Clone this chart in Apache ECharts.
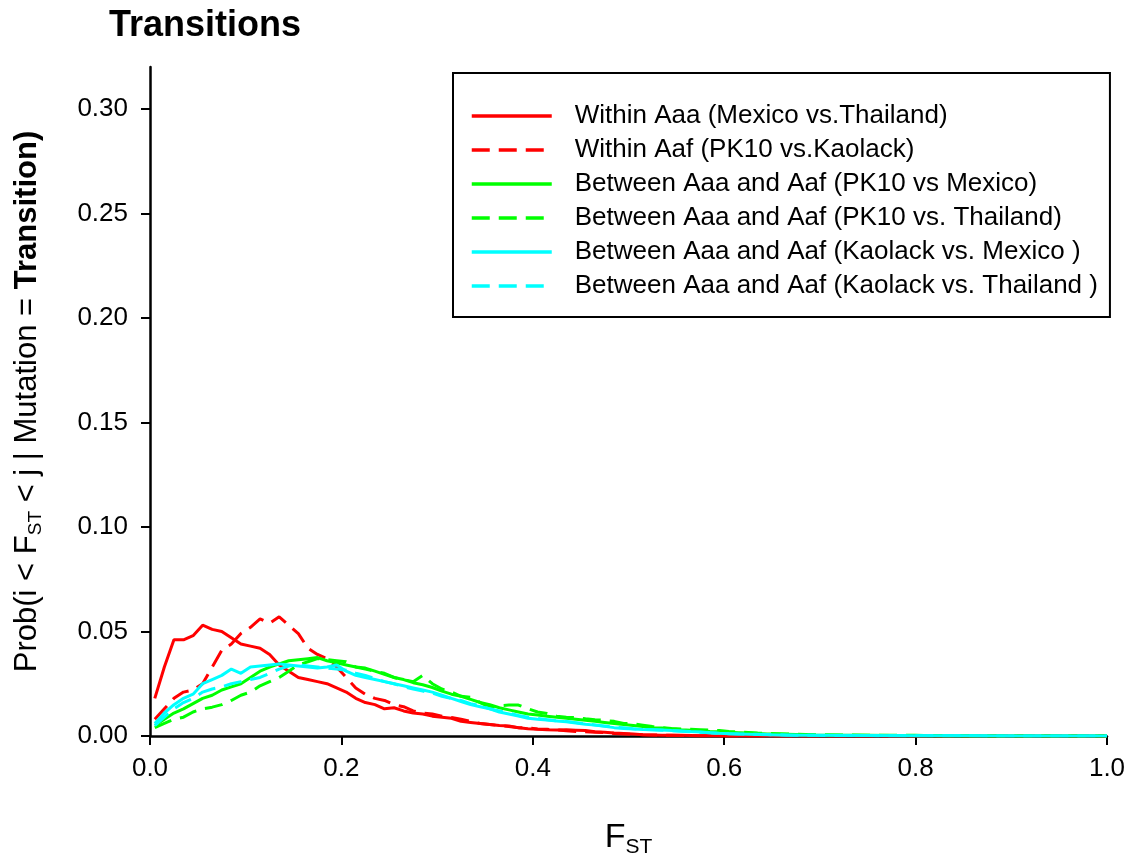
<!DOCTYPE html>
<html>
<head>
<meta charset="utf-8">
<script src="https://cdn.jsdelivr.net/npm/echarts@6/dist/echarts.min.js"></script>
<style>
  html, body { margin: 0; padding: 0; background: #fff; }
  #chart { width: 1132px; height: 863px; }
</style>
</head>
<body>
<div id="chart"></div>
<script>
// FST bin centres shared by every curve
const fst = [
  0.005, 0.015, 0.025, 0.035, 0.045, 0.055, 0.065, 0.075, 0.085, 0.095,
  0.105, 0.115, 0.125, 0.135, 0.145, 0.155, 0.165, 0.175, 0.185, 0.195,
  0.205, 0.215, 0.225, 0.235, 0.245, 0.255, 0.265, 0.275, 0.285, 0.295,
  0.305, 0.315, 0.325, 0.335, 0.345, 0.355, 0.365, 0.375, 0.385, 0.395,
  0.405, 0.415, 0.425, 0.435, 0.445, 0.455, 0.465, 0.475, 0.485, 0.495,
  0.505, 0.515, 0.525, 0.535, 0.545, 0.555, 0.565, 0.575, 0.585, 0.595,
  0.605, 0.615, 0.625, 0.635, 0.645, 0.655, 0.665, 0.675, 0.685, 0.695,
  0.75, 0.80, 0.85, 0.90, 0.95, 1.00
];

// Within Aaa (Mexico vs. Thailand)
const withinAaa = [
  0.018, 0.033, 0.046, 0.046, 0.048, 0.053, 0.051, 0.050, 0.047, 0.044,
  0.043, 0.042, 0.039, 0.034, 0.031, 0.028, 0.027, 0.026, 0.025, 0.023,
  0.021, 0.018, 0.016, 0.015, 0.013, 0.0135, 0.012, 0.011, 0.0105, 0.0095,
  0.009, 0.0085, 0.007, 0.0065, 0.006, 0.0055, 0.005, 0.0048, 0.004, 0.0035,
  0.0032, 0.003, 0.0029, 0.003, 0.0028, 0.0026, 0.002, 0.0018, 0.0014, 0.0012,
  0.001, 0.0006, 0.0005, 0.0004, 0.0003, 0.0003, 0.0002, 0.0001, 0.0001, 0,
  0, 0, 0, 0, 0, 0, 0, 0, 0, 0,
  0, 0, 0, 0, 0, 0
];

// Within Aaf (PK10 vs. Kaolack)
const withinAaf = [
  0.008, 0.013, 0.018, 0.021, 0.022, 0.025, 0.033, 0.041, 0.044, 0.049,
  0.052, 0.056, 0.054, 0.057, 0.053, 0.049, 0.042, 0.039, 0.037, 0.033,
  0.028, 0.023, 0.020, 0.018, 0.017, 0.015, 0.014, 0.012, 0.011, 0.0105,
  0.0095, 0.0088, 0.008, 0.007, 0.006, 0.0055, 0.005, 0.0045, 0.004, 0.0038,
  0.0034, 0.0032, 0.003, 0.0025, 0.0022, 0.002, 0.0018, 0.0016, 0.0012, 0.001,
  0.0008, 0.0006, 0.0005, 0.0004, 0.0003, 0.0002, 0.0002, 0.0001, 0.0001, 0,
  0, 0, 0, 0, 0, 0, 0, 0, 0, 0,
  0, 0, 0, 0, 0, 0
];

// Between Aaa and Aaf (PK10 vs Mexico)
const pk10Mexico = [
  0.005, 0.008, 0.011, 0.013, 0.0155, 0.018, 0.0195, 0.022, 0.0235, 0.025,
  0.028, 0.031, 0.033, 0.0345, 0.036, 0.0365, 0.037, 0.0375, 0.036, 0.035,
  0.034, 0.033, 0.0325, 0.031, 0.0295, 0.028, 0.027, 0.0255, 0.0245, 0.0232,
  0.0215, 0.020, 0.019, 0.0175, 0.016, 0.015, 0.0135, 0.0125, 0.0115, 0.0105,
  0.010, 0.0095, 0.009, 0.0085, 0.008, 0.0075, 0.007, 0.0065, 0.006, 0.0055,
  0.005, 0.0045, 0.004, 0.0038, 0.0034, 0.003, 0.0028, 0.0025, 0.0022, 0.002,
  0.0018, 0.0016, 0.0014, 0.0012, 0.001, 0.0009, 0.0008, 0.0007, 0.0006, 0.0005,
  0.0003, 0.0001, 0, 0, 0, 0
];

// Between Aaa and Aaf (PK10 vs. Thailand)
const pk10Thailand = [
  0.004, 0.006, 0.008, 0.009, 0.0115, 0.013, 0.0138, 0.015, 0.017, 0.0195,
  0.021, 0.024, 0.026, 0.028, 0.031, 0.034, 0.0355, 0.037, 0.0365, 0.036,
  0.0355, 0.033, 0.032, 0.031, 0.030, 0.028, 0.027, 0.026, 0.029, 0.025,
  0.0225, 0.021, 0.019, 0.0185, 0.016, 0.0138, 0.0145, 0.0148, 0.0148, 0.013,
  0.0115, 0.0108, 0.0095, 0.009, 0.0088, 0.0082, 0.0078, 0.0075, 0.007, 0.006,
  0.0058, 0.0052, 0.0045, 0.004, 0.0036, 0.0034, 0.0032, 0.003, 0.0028, 0.0026,
  0.0022, 0.002, 0.0017, 0.0014, 0.0012, 0.0011, 0.001, 0.0008, 0.0007, 0.0006,
  0.0004, 0.0003, 0.0001, 0, 0, 0
];

// Between Aaa and Aaf (Kaolack vs. Mexico)
const kaolackMexico = [
  0.006, 0.011, 0.015, 0.018, 0.020, 0.025, 0.027, 0.029, 0.032, 0.030,
  0.033, 0.0335, 0.034, 0.0345, 0.034, 0.0335, 0.033, 0.0325, 0.033, 0.034,
  0.031, 0.029, 0.028, 0.027, 0.026, 0.025, 0.024, 0.023, 0.022, 0.021,
  0.0195, 0.018, 0.0165, 0.015, 0.014, 0.013, 0.0115, 0.0105, 0.0095, 0.0085,
  0.008, 0.0076, 0.0072, 0.0068, 0.0062, 0.0056, 0.0052, 0.0046, 0.004, 0.0036,
  0.0033, 0.0031, 0.003, 0.0029, 0.0026, 0.0024, 0.0021, 0.0019, 0.0016, 0.0013,
  0.0011, 0.0009, 0.0008, 0.0007, 0.0006, 0.0005, 0.0004, 0.0004, 0.0003, 0.0003,
  0.0002, 0.0001, 0.0001, 0, 0, 0
];

// Between Aaa and Aaf (Kaolack vs. Thailand)
const kaolackThailand = [
  0.005, 0.009, 0.013, 0.016, 0.018, 0.021, 0.0225, 0.0235, 0.025, 0.026,
  0.027, 0.028, 0.030, 0.032, 0.0335, 0.034, 0.0335, 0.033, 0.0325, 0.032,
  0.0315, 0.030, 0.029, 0.0275, 0.026, 0.025, 0.0235, 0.0225, 0.0215, 0.0205,
  0.019, 0.018, 0.017, 0.0155, 0.0145, 0.013, 0.012, 0.011, 0.0098, 0.009,
  0.0084, 0.0078, 0.0073, 0.007, 0.0064, 0.0058, 0.0053, 0.0048, 0.0043, 0.0039,
  0.0035, 0.0032, 0.003, 0.0028, 0.0025, 0.0023, 0.002, 0.0018, 0.0015, 0.0013,
  0.0011, 0.001, 0.0009, 0.0008, 0.0007, 0.0006, 0.0005, 0.0004, 0.0004, 0.0003,
  0.0002, 0.0001, 0.0001, 0, 0, 0
];

const seriesNames = [
  'Within Aaa (Mexico vs.Thailand)',
  'Within Aaf (PK10 vs.Kaolack)',
  'Between Aaa and Aaf (PK10 vs Mexico)',
  'Between Aaa and Aaf (PK10 vs. Thailand)',
  'Between Aaa and Aaf (Kaolack vs. Mexico )',
  'Between Aaa and Aaf (Kaolack vs. Thailand )'
];
const seriesValues = [withinAaa, withinAaf, pk10Mexico, pk10Thailand, kaolackMexico, kaolackThailand];
const seriesColors = ['#ff0000', '#ff0000', '#00ff00', '#00ff00', '#00ffff', '#00ffff'];
const seriesDashed = [false, true, false, true, false, true];

const yTickValues = [0, 0.05, 0.10, 0.15, 0.20, 0.25, 0.30];

const FONT = "'Liberation Sans', Arial, sans-serif";

const chart = echarts.init(document.getElementById('chart'), null, { renderer: 'canvas' });

const series = seriesNames.map((name, k) => ({
  name: name,
  type: 'line',
  data: fst.map((x, i) => [x, seriesValues[k][i]]),
  showSymbol: false,
  symbol: 'none',
  lineStyle: {
    color: seriesColors[k],
    width: 3,
    type: seriesDashed[k] ? [18, 9] : 'solid'
  },
  itemStyle: { color: seriesColors[k] },
  emphasis: { disabled: true }
}));

chart.setOption({
  animation: false,
  backgroundColor: '#ffffff',
  title: {
    text: 'Transitions',
    left: 104,
    top: 3,
    textStyle: { fontFamily: FONT, fontSize: 36, fontWeight: 'bold', color: '#000' }
  },
  legend: {
    orient: 'vertical',
    left: 453,
    top: 73,
    padding: [30, 12, 18, 17],
    itemWidth: 80,
    itemHeight: 14,
    itemGap: 8,
    borderColor: '#000',
    borderWidth: 2,
    backgroundColor: '#fff',
    data: seriesNames,
    // only the line part of each key is drawn
    itemStyle: { opacity: 0 },
    lineStyle: { width: 3.5 },
    textStyle: {
      fontFamily: FONT,
      fontSize: 26,
      lineHeight: 26,
      color: '#000',
      padding: [0, 0, 0, 18]
    }
  },
  grid: { left: 150, right: 25, top: 67, bottom: 124 },
  xAxis: {
    type: 'value',
    min: 0,
    max: 1,
    interval: 0.2,
    name: '{n|F}{s|ST}',
    nameLocation: 'middle',
    nameGap: 82,
    nameTextStyle: {
      rich: {
        n: { fontFamily: FONT, fontSize: 34, lineHeight: 40, color: '#000' },
        s: { fontFamily: FONT, fontSize: 21, lineHeight: 15, verticalAlign: 'bottom', color: '#000' }
      }
    },
    axisLine: { show: true, onZero: false, lineStyle: { color: '#000', width: 2.5 } },
    axisTick: { show: true, inside: false, length: 9, lineStyle: { color: '#000', width: 2 } },
    axisLabel: {
      fontFamily: FONT, fontSize: 26, color: '#000', margin: 20,
      formatter: v => v.toFixed(1)
    },
    splitLine: { show: false }
  },
  yAxis: {
    type: 'value',
    min: 0,
    max: 0.32,
    name: '{n|Prob(i < F}{s|ST}{n| < j | Mutation = }{b|Transition)}',
    nameLocation: 'middle',
    nameRotate: 90,
    nameGap: 105,
    nameTextStyle: {
      rich: {
        n: { fontFamily: FONT, fontSize: 31, lineHeight: 36, color: '#000' },
        s: { fontFamily: FONT, fontSize: 19, lineHeight: 14, verticalAlign: 'bottom', color: '#000' },
        b: { fontFamily: FONT, fontSize: 31, lineHeight: 36, fontWeight: 'bold', color: '#000' }
      }
    },
    axisLine: { show: true, onZero: false, lineStyle: { color: '#000', width: 2.5 } },
    axisTick: {
      show: true, inside: false, length: 9,
      customValues: yTickValues,
      lineStyle: { color: '#000', width: 2 }
    },
    axisLabel: {
      fontFamily: FONT, fontSize: 26, color: '#000', margin: 22,
      customValues: yTickValues,
      formatter: v => v.toFixed(2)
    },
    splitLine: { show: false }
  },
  series: series
});
</script>
</body>
</html>
